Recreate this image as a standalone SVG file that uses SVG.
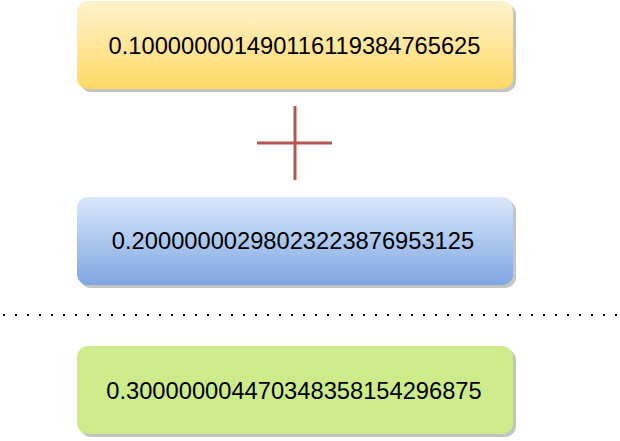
<svg xmlns="http://www.w3.org/2000/svg" width="620" height="441" viewBox="0 0 620 441">
<defs>
<linearGradient id="gY" x1="0" y1="0" x2="0" y2="1"><stop offset="0" stop-color="#fff2cc"/><stop offset="1" stop-color="#ffd966"/></linearGradient>
<linearGradient id="gB" x1="0" y1="0" x2="0" y2="1"><stop offset="0" stop-color="#dae8fc"/><stop offset="1" stop-color="#7ea6e0"/></linearGradient>
<style>
.shadow{fill:#c4c4c4}
.lbl{font-family:"Liberation Sans",Arial,sans-serif;font-size:23.7px;fill:#000;text-anchor:middle}
.plus{stroke:#b85450;stroke-width:3;fill:none}
</style>
</defs>
<g id="node1">
<rect class="shadow" x="80" y="4" width="436" height="88" rx="11"/>
<rect x="77" y="1" width="436" height="88" rx="11" fill="url(#gY)"/>
<text class="lbl" x="294.5" y="54">0.100000001490116119384765625</text>
</g>
<g id="plus">
<line class="plus" x1="295" y1="106" x2="295" y2="180"/>
<line class="plus" x1="257" y1="143" x2="332" y2="143"/>
</g>
<g id="node2">
<rect class="shadow" x="80" y="200" width="436" height="88" rx="11"/>
<rect x="77" y="197" width="436" height="88" rx="11" fill="url(#gB)"/>
<text class="lbl" x="293" y="249.3">0.20000000298023223876953125</text>
</g>
<g id="connectors">
<line x1="3" y1="315" x2="620" y2="315" stroke="#000" stroke-width="2" stroke-dasharray="2 10"/>
</g>
<g id="node3">
<rect class="shadow" x="80" y="349" width="436" height="88" rx="11"/>
<rect x="77" y="346" width="436" height="88" rx="11" fill="#cdeb8b"/>
<text class="lbl" x="294" y="398.5">0.300000004470348358154296875</text>
</g>
</svg>
